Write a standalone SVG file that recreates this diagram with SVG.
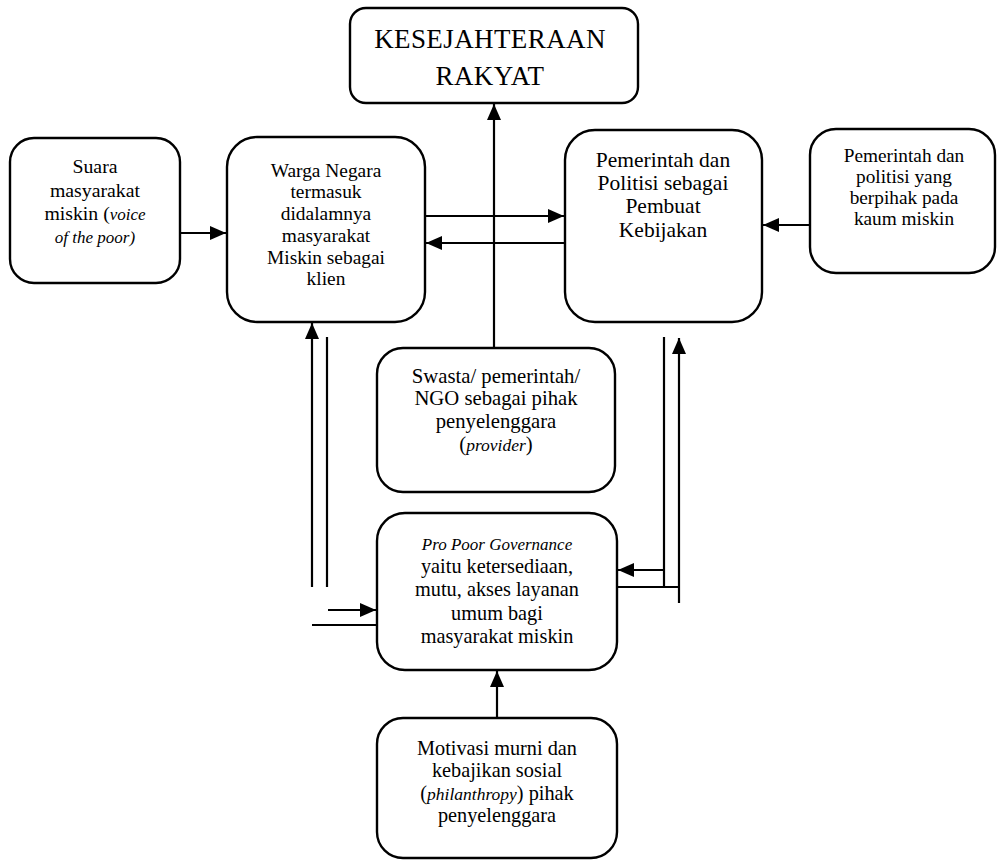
<svg xmlns="http://www.w3.org/2000/svg" width="998" height="861" viewBox="0 0 998 861">
<style>
.box{fill:#fff;stroke:#000;stroke-width:2.4}
.t{font-family:"Liberation Serif","Times New Roman",serif;fill:#000;text-anchor:middle}
.i{font-style:italic}
.ln{stroke:#000;stroke-width:2.2;fill:none}
</style>
<defs>
<marker id="a" viewBox="0 0 16 14" refX="16" refY="7" markerWidth="16" markerHeight="14" markerUnits="userSpaceOnUse" orient="auto">
<path d="M0,0 L16,7 L0,14 z" fill="#000"/>
</marker>
</defs>
<rect width="998" height="861" fill="#fff"/>

<g id="connectors">
<line class="ln" x1="494" y1="348" x2="494" y2="104" marker-end="url(#a)"/>
<line class="ln" x1="425" y1="216" x2="564" y2="216" marker-end="url(#a)"/>
<line class="ln" x1="565" y1="243" x2="426" y2="243" marker-end="url(#a)"/>
<line class="ln" x1="180" y1="233" x2="226" y2="233" marker-end="url(#a)"/>
<line class="ln" x1="810" y1="225" x2="763" y2="225" marker-end="url(#a)"/>
<line class="ln" x1="312" y1="587" x2="312" y2="323" marker-end="url(#a)"/>
<line class="ln" x1="327" y1="337" x2="327" y2="587"/>
<line class="ln" x1="328" y1="610" x2="376" y2="610" marker-end="url(#a)"/>
<line class="ln" x1="312" y1="625" x2="377" y2="625"/>
<line class="ln" x1="664" y1="337" x2="664" y2="588"/>
<line class="ln" x1="664" y1="570" x2="618" y2="570" marker-end="url(#a)"/>
<line class="ln" x1="617" y1="587" x2="679" y2="587"/>
<line class="ln" x1="679" y1="603" x2="679" y2="338" marker-end="url(#a)"/>
<line class="ln" x1="497" y1="718" x2="497" y2="671" marker-end="url(#a)"/>
</g>

<g id="kesejahteraan">
<rect class="box" x="350" y="8" width="288" height="95" rx="16"/>
<text class="t" x="490" y="48" font-size="27" letter-spacing="0.4">KESEJAHTERAAN</text>
<text class="t" x="490" y="85" font-size="27" letter-spacing="0.4">RAKYAT</text>
</g>

<g id="suara">
<rect class="box" x="10" y="138" width="170" height="145" rx="24"/>
<text class="t" font-size="19.8"><tspan x="95" y="173">Suara</tspan><tspan x="95" y="197">masyarakat</tspan><tspan x="95" y="220">miskin (<tspan class="i" font-size="17">voice</tspan></tspan><tspan x="95" y="243" class="i" font-size="17">of the poor)</tspan></text>
</g>

<g id="warga">
<rect class="box" x="227" y="137" width="198" height="185" rx="30"/>
<text class="t" font-size="19.4"><tspan x="326" y="177">Warga Negara</tspan><tspan x="326" y="198">termasuk</tspan><tspan x="326" y="220">didalamnya</tspan><tspan x="326" y="242">masyarakat</tspan><tspan x="326" y="264">Miskin sebagai</tspan><tspan x="326" y="285">klien</tspan></text>
</g>

<g id="pemerintah">
<rect class="box" x="565" y="130" width="197" height="192" rx="30"/>
<text class="t" font-size="21.5"><tspan x="663" y="167">Pemerintah dan</tspan><tspan x="663" y="190">Politisi sebagai</tspan><tspan x="663" y="213">Pembuat</tspan><tspan x="663" y="237">Kebijakan</tspan></text>
</g>

<g id="politisi-pro-miskin">
<rect class="box" x="810" y="129" width="185" height="144" rx="26"/>
<text class="t" font-size="19.3"><tspan x="904" y="162">Pemerintah dan</tspan><tspan x="904" y="183">politisi yang</tspan><tspan x="904" y="204">berpihak pada</tspan><tspan x="904" y="225">kaum miskin</tspan></text>
</g>

<g id="swasta">
<rect class="box" x="377" y="348" width="238" height="144" rx="26"/>
<text class="t" font-size="20.7"><tspan x="496" y="383">Swasta/ pemerintah/</tspan><tspan x="496" y="405">NGO sebagai pihak</tspan><tspan x="496" y="428">penyelenggara</tspan><tspan x="496" y="451">(<tspan class="i" font-size="17.5">provider</tspan>)</tspan></text>
</g>

<g id="pro-poor-governance">
<rect class="box" x="377" y="513" width="240" height="157" rx="28"/>
<text class="t" font-size="20.3"><tspan x="497" y="550" class="i" font-size="17">Pro Poor Governance</tspan><tspan x="497" y="573">yaitu ketersediaan,</tspan><tspan x="497" y="596">mutu, akses layanan</tspan><tspan x="497" y="620">umum bagi</tspan><tspan x="497" y="643">masyarakat miskin</tspan></text>
</g>

<g id="motivasi">
<rect class="box" x="377" y="718" width="240" height="140" rx="26"/>
<text class="t" font-size="20.3"><tspan x="497" y="755">Motivasi murni dan</tspan><tspan x="497" y="777">kebajikan sosial</tspan><tspan x="497" y="800">(<tspan class="i" font-size="17.5">philanthropy</tspan>) pihak</tspan><tspan x="497" y="822">penyelenggara</tspan></text>
</g>
</svg>
